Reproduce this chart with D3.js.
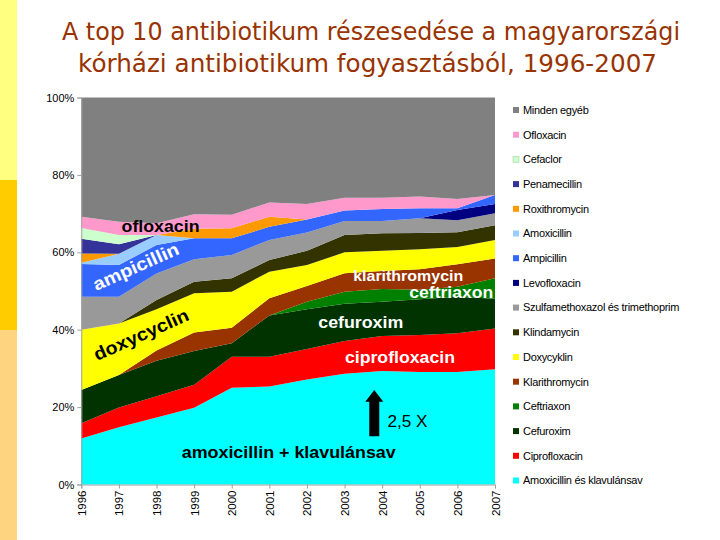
<!DOCTYPE html>
<html>
<head>
<meta charset="utf-8">
<style>
  body { margin: 0; background: #fff; }
  svg { display: block; }
</style>
</head>
<body>
<svg width="720" height="540"></svg>

<script src="https://d3js.org/d3.v7.min.js"></script>
<script>

	// Top 10 antibiotics, share of hospital antibiotic use in Hungary, 1996-2007
	// 100% stacked area chart (percent)

	const years = [1996, 1997, 1998, 1999, 2000, 2001, 2002, 2003, 2004, 2005, 2006, 2007]

	// series, bottom of the stack first
	const amoxiKlav      = [11.9, 14.8, 17.3, 19.8, 25.0, 25.3, 27.1, 28.6, 29.3, 29.1, 29.1, 29.8]
	const ciprofloxacin  = [ 3.9,  5.1,  5.5,  6.0,  8.0,  7.7,  7.9,  8.5,  9.1,  9.5, 10.0, 10.5]
	const cefuroxim      = [ 8.6,  8.4,  9.2,  8.7,  3.5, 10.7, 10.3,  9.6,  8.8,  9.3,  9.4,  7.7]
	const ceftriaxon     = [ 0.0,  0.0,  0.0,  0.0,  0.0,  0.0,  1.9,  3.1,  3.3,  2.4,  2.6,  5.3]
	const klarithromycin = [ 0.0,  0.0,  2.6,  4.8,  4.0,  4.4,  4.1,  4.8,  4.7,  5.3,  5.8,  5.1]
	const doxycyklin     = [15.6, 13.3, 10.7, 10.1,  9.3,  6.9,  5.4,  5.4,  5.2,  5.2,  4.5,  4.8]
	const klindamycin    = [ 0.0,  0.0,  2.4,  3.0,  3.5,  3.0,  3.7,  4.5,  4.5,  4.2,  3.8,  3.8]
	const szulfa         = [ 8.5,  6.9,  6.8,  5.8,  6.0,  5.2,  4.7,  3.6,  3.2,  3.8,  3.1,  3.1]
	const levofloxacin   = [ 0.0,  0.0,  0.0,  0.0,  0.0,  0.0,  0.0,  0.0,  0.0,  0.0,  2.6,  2.4]
	const ampicillin     = [ 8.5,  8.2,  7.4,  5.4,  4.3,  3.4,  3.4,  2.7,  3.1,  2.6,  0.5,  2.3]
	const amoxicillin    = [ 0.3,  2.9,  2.6,  0.0,  0.0,  0.0,  0.0,  0.0,  0.0,  0.0,  0.0,  0.0]
	const roxithromycin  = [ 2.4,  0.0,  0.0,  2.5,  2.6,  2.6,  0.0,  0.0,  0.0,  0.0,  0.0,  0.0]
	const penamecillin   = [ 3.8,  2.5,  0.0,  0.0,  0.0,  0.0,  0.0,  0.0,  0.0,  0.0,  0.0,  0.0]
	const cefaclor       = [ 2.8,  2.4,  0.0,  0.0,  0.0,  0.0,  0.0,  0.0,  0.0,  0.0,  0.0,  0.0]
	const ofloxacin      = [ 2.9,  3.4,  3.0,  3.7,  3.5,  3.7,  4.0,  3.3,  2.9,  3.0,  2.4,  0.0]
	const mindenEgyeb    = [30.8, 32.1, 32.5, 30.2, 30.3, 27.1, 27.5, 25.9, 25.9, 25.6, 26.2, 25.2]

	// legend labels, same order as the stack (bottom first)
	const names = [
		"Amoxicillin és klavulánsav", "Ciprofloxacin", "Cefuroxim", "Ceftriaxon",
		"Klarithromycin", "Doxycyklin", "Klindamycin", "Szulfamethoxazol és trimethoprim",
		"Levofloxacin", "Ampicillin", "Amoxicillin", "Roxithromycin",
		"Penamecillin", "Cefaclor", "Ofloxacin", "Minden egyéb"
	]
	const series = [
		amoxiKlav, ciprofloxacin, cefuroxim, ceftriaxon, klarithromycin, doxycyklin,
		klindamycin, szulfa, levofloxacin, ampicillin, amoxicillin, roxithromycin,
		penamecillin, cefaclor, ofloxacin, mindenEgyeb
	]
	const colors = [
		"#00ffff", "#ff0000", "#003300", "#008000", "#993300", "#ffff00",
		"#333300", "#999999", "#000080", "#3366ff", "#99ccff", "#ff9900",
		"#333399", "#ccffcc", "#ff99cc", "#808080"
	]

	const yTicks = [0, 0.2, 0.4, 0.6, 0.8, 1]

	// build rows for d3.stack
	const rows = years.map((yr, i) => {
		const row = {year: yr}
		names.forEach((n, j) => row[n] = series[j][i])
		return row
	})

	const svg = d3.select("svg")

	// yellow strip on the slide's left edge
	svg.append("rect").attr("x", 0).attr("y", 0).attr("width", 17).attr("height", 180).attr("fill", "#ffff80")
	svg.append("rect").attr("x", 0).attr("y", 180).attr("width", 17).attr("height", 150).attr("fill", "#ffcc00")
	svg.append("rect").attr("x", 0).attr("y", 330).attr("width", 17).attr("height", 210).attr("fill", "#ffd480")

	// title
	const title = svg.append("g")
		.attr("font-family", "'Comic Sans MS', 'DejaVu Sans', sans-serif")
		.attr("font-size", 24)
		.attr("fill", "#993300")
	title.append("text").attr("x", 62).attr("y", 40)
		.attr("textLength", 618).attr("lengthAdjust", "spacingAndGlyphs")
		.text("A top 10 antibiotikum részesedése a magyarországi")
	title.append("text").attr("x", 78).attr("y", 72)
		.attr("textLength", 579).attr("lengthAdjust", "spacingAndGlyphs")
		.text("kórházi antibiotikum fogyasztásból, 1996-2007")

	// scales
	const x = d3.scaleLinear().domain([1996, 2007]).range([81.3, 495])
	const y = d3.scaleLinear().domain([0, 1]).range([484.5, 97.5])

	const stack = d3.stack()
		.keys(names)
		.offset(d3.stackOffsetExpand)
	const layers = stack(rows)

	const area = d3.area()
		.x(d => x(d.data.year))
		.y0(d => y(d[0]))
		.y1(d => y(d[1]))

	svg.append("g")
		.selectAll("path")
		.data(layers)
		.join("path")
			.attr("d", area)
			.attr("fill", (d, i) => colors[i])

	// axes
	const yAxis = svg.append("g")
		.attr("transform", `translate(${x(1996)},0)`)
		.call(d3.axisLeft(y).tickValues(yTicks).tickFormat(d3.format(".0%")).tickSize(4).tickPadding(3))
	yAxis.selectAll("text")
		.attr("font-family", "'Liberation Sans', Arial, sans-serif")
		.attr("font-size", 11)
		.attr("fill", "#000")

	const xAxis = svg.append("g")
		.attr("transform", `translate(0,${y(0)})`)
		.call(d3.axisBottom(x).tickValues(years).tickFormat(d3.format("d")).tickSize(4))
	xAxis.selectAll("text")
		.attr("font-family", "'Liberation Sans', Arial, sans-serif")
		.attr("font-size", 11.5)
		.attr("fill", "#000")
		.attr("transform", "rotate(-90)")
		.attr("text-anchor", "end")
		.attr("x", -6)
		.attr("y", 0)
		.attr("dy", "0.35em")

	svg.selectAll(".domain, .tick line").attr("stroke", "#a0a0a0")

	// legend, top entry = top of stack
	const legend = svg.append("g")
		.attr("font-family", "'Liberation Sans', Arial, sans-serif")
		.attr("font-size", 11)
	const item = legend.selectAll("g")
		.data(names.map((n, i) => ({name: n, color: colors[i]})).reverse())
		.join("g")
			.attr("transform", (d, i) => `translate(513,${110 + i * 24.7})`)
	item.append("rect")
		.attr("x", 0).attr("y", -3)
		.attr("width", 6).attr("height", 6)
		.attr("fill", d => d.color)
		.attr("stroke", d => d.color === "#ccffcc" ? "#99cc99" : "none")
		.attr("stroke-width", 0.5)
	item.append("text")
		.attr("x", 10).attr("dy", "0.35em")
		.attr("letter-spacing", -0.3)
		.text(d => d.name)

	// labels written onto the areas
	const notes = [
		{text: "ofloxacin", yr: 1997.07, p: 0.652, len: 78, size: 17, fill: "#000", angle: 0},
		{text: "ampicillin", yr: 1996.40, p: 0.500, len: 92, size: 18, fill: "#fff", angle: -24},
		{text: "doxycyclin", yr: 1996.42, p: 0.319, len: 102, size: 18, fill: "#000", angle: -24},
		{text: "klarithromycin", yr: 2003.23, p: 0.526, len: 110, size: 15, fill: "#fff", angle: 0},
		{text: "ceftriaxon", yr: 2004.72, p: 0.481, len: 84, size: 16, fill: "#fff", angle: 0},
		{text: "cefuroxim", yr: 2002.30, p: 0.405, len: 85, size: 16, fill: "#fff", angle: 0},
		{text: "ciprofloxacin", yr: 2003.01, p: 0.315, len: 110, size: 16, fill: "#fff", angle: 0},
		{text: "amoxicillin + klavulánsav", yr: 1998.67, p: 0.068, len: 214, size: 16, fill: "#000", angle: 0}
	]
	svg.append("g")
		.attr("font-family", "'Liberation Sans', Arial, sans-serif")
		.attr("font-weight", "bold")
		.selectAll("text")
		.data(notes)
		.join("text")
			.attr("transform", d => `translate(${x(d.yr)},${y(d.p)}) rotate(${d.angle})`)
			.attr("font-size", d => d.size)
			.attr("fill", d => d.fill)
			.attr("textLength", d => d.len)
			.attr("lengthAdjust", "spacingAndGlyphs")
			.text(d => d.text)

	// growth arrow
	const ax = x(2003.79)
	const aBot = y(0.125), aTip = y(0.244), aHead = y(0.214)
	svg.append("path")
		.attr("d", `M${ax - 5},${aBot} L${ax - 5},${aHead} L${ax - 9},${aHead} L${ax},${aTip} L${ax + 9},${aHead} L${ax + 5},${aHead} L${ax + 5},${aBot} Z`)
		.attr("fill", "#000")
	svg.append("text")
		.attr("x", x(2004.14)).attr("y", y(0.149))
		.attr("font-family", "'Liberation Sans', Arial, sans-serif")
		.attr("font-size", 16)
		.attr("textLength", 40)
		.attr("lengthAdjust", "spacingAndGlyphs")
		.text("2,5 X")

</script>
</body>
</html>
